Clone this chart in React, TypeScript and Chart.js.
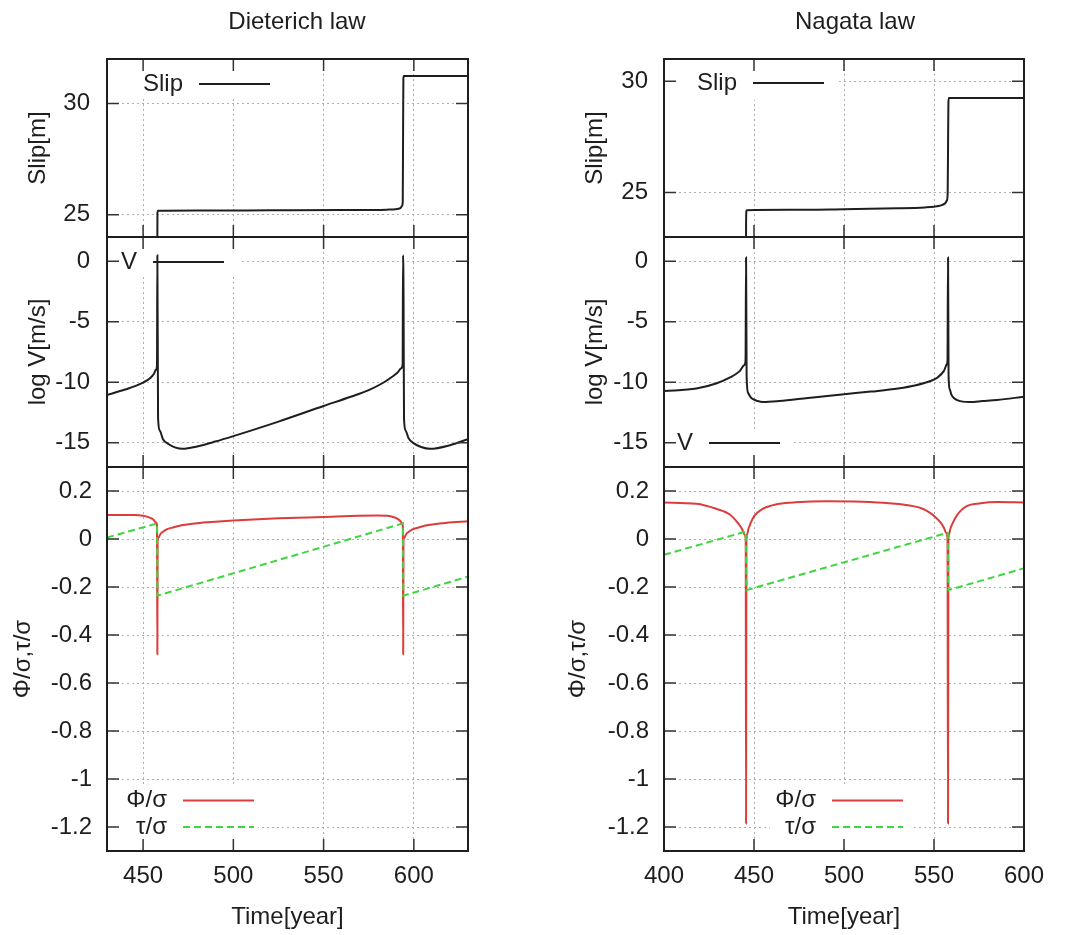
import React, { useEffect, useRef } from 'react';
import { Chart, registerables } from 'chart.js';

Chart.register(...registerables);

const FONT = "'Liberation Sans', Arial, Helvetica, sans-serif";

// ---------------- Data: Dieterich law ----------------
const dieterichSlipTime = [430, 457.75, 457.85, 457.95, 458.2, 480, 520, 560, 585, 590, 592.5, 593.5, 593.85, 594.05, 594.2, 594.4, 630];
const dieterichSlip = [19.15, 19.2, 22.5, 25.1, 25.18, 25.19, 25.2, 25.21, 25.23, 25.25, 25.3, 25.4, 25.6, 29, 31.1, 31.24, 31.24];

const dieterichVTime = [430, 440, 450, 454, 456, 457.2, 457.7, 457.9, 458.3, 459.3, 461, 464, 468, 472, 480, 490, 500, 525, 550, 565, 575, 583.5, 588, 591, 593, 593.8, 594.0, 594.3, 594.55, 595.5, 597, 600, 604, 609, 620, 630];
const dieterichLogV = [-11.05, -10.6, -10.03, -9.65, -9.3, -8.95, -8.6, 0.5, -13.0, -14.0, -14.7, -15.1, -15.4, -15.5, -15.3, -14.9, -14.45, -13.25, -11.96, -11.2, -10.65, -10.0, -9.55, -9.2, -8.85, -8.5, 0.5, -3, -13.0, -14.0, -14.6, -15.05, -15.35, -15.5, -15.2, -14.7];

const dieterichPhiTime = [430, 445, 450, 453, 455.5, 457, 457.7, 457.9, 458.05, 458.5, 459.5, 461, 463, 466.5, 472, 480, 490, 500, 525, 550, 570, 580, 585, 588, 590.5, 592.5, 593.5, 593.9, 594.1, 594.25, 594.7, 595.7, 597.2, 599.2, 602.7, 608, 616, 626, 630];
const dieterichPhi = [0.1, 0.1, 0.097, 0.091, 0.082, 0.07, 0.06, -0.48, -0.01, 0.005, 0.02, 0.03, 0.04, 0.048, 0.058, 0.066, 0.072, 0.077, 0.086, 0.092, 0.097, 0.098, 0.097, 0.093, 0.086, 0.075, 0.065, 0.055, -0.48, -0.01, 0.005, 0.02, 0.03, 0.04, 0.048, 0.058, 0.066, 0.072, 0.074];

const dieterichTauTime = [430, 457.75, 457.95, 593.95, 594.15, 630];
const dieterichTau = [0.006, 0.065, -0.236, 0.065, -0.236, -0.157];

// ---------------- Data: Nagata law ----------------
const nagataSlipTime = [400, 445.4, 445.5, 445.6, 445.75, 446, 470, 500, 530, 545, 550, 554, 556, 557.2, 557.6, 557.8, 558.0, 558.2, 600];
const nagataSlip = [19.4, 19.45, 21, 23.5, 24.15, 24.2, 24.22, 24.25, 24.29, 24.33, 24.36, 24.42, 24.5, 24.65, 25.0, 27, 29.0, 29.25, 29.25];

const nagataVTime = [400, 418, 429.3, 436.7, 442.2, 444.5, 445.3, 445.6, 445.9, 446.7, 448, 449.5, 452, 455, 464, 480, 500, 515, 530, 540, 548, 552, 555.5, 557.2, 557.5, 557.8, 558.1, 558.8, 559.6, 561, 563.3, 566, 569.8, 577, 585, 600];
const nagataLogV = [-10.72, -10.52, -10.08, -9.6, -9.06, -8.6, -8.2, 0.3, -9.5, -10.86, -11.2, -11.4, -11.55, -11.63, -11.55, -11.3, -10.99, -10.77, -10.52, -10.25, -9.9, -9.6, -9.06, -8.5, -8.2, 0.3, -9.5, -10.6, -11.0, -11.3, -11.5, -11.6, -11.63, -11.55, -11.46, -11.2];

const nagataPhiTime = [400, 418, 429, 436.6, 441, 443.5, 444.8, 445.4, 445.6, 445.8, 446.2, 446.8, 447.8, 449.6, 452, 455, 460, 464, 473, 490, 510, 525, 538.5, 544, 547.8, 551, 553.5, 555.5, 556.8, 557.5, 557.8, 558.0, 558.4, 559, 560, 562, 564.5, 567.7, 575, 586, 600];
const nagataPhi = [0.152, 0.147, 0.126, 0.102, 0.067, 0.04, 0.018, 0.0, -1.185, -0.01, 0.02, 0.04, 0.06, 0.09, 0.11, 0.127, 0.14, 0.147, 0.153, 0.157, 0.155, 0.149, 0.137, 0.125, 0.109, 0.09, 0.07, 0.047, 0.025, 0.005, -1.185, -0.01, 0.02, 0.04, 0.06, 0.09, 0.115, 0.135, 0.148, 0.154, 0.152];

const nagataTauTime = [400, 445.4, 445.8, 557.6, 558.0, 600];
const nagataTau = [-0.066, 0.031, -0.213, 0.026, -0.213, -0.122];

// ---------------- Axes ----------------
const dieterichTimeRange = [430, 630];
const nagataTimeRange = [400, 600];
const dieterichTimeTicks = [450, 500, 550, 600];
const nagataTimeTicks = [400, 450, 500, 550, 600];
const dieterichSlipRange = [24, 32];
const nagataSlipRange = [23, 31];
const slipTicks = [25, 30];
const logVRange = [-17, 2];
const logVTicks = [0, -5, -10, -15];
const stressRange = [-1.3, 0.3];
const stressTicks = [0.2, 0, -0.2, -0.4, -0.6, -0.8, -1, -1.2];

const TEXT = '#1e1e1e';
const LINE = '#1e1e1e';
const RED = '#dc3c3c';
const GREEN = '#3ed63e';
const GRID = '#b0b0b0';

function pts(t: number[], v: number[]) {
  return t.map((x, i) => ({ x, y: v[i] }));
}

function blackLine(label: string, t: number[], v: number[]) {
  return { label, data: pts(t, v), borderColor: LINE, borderWidth: 2, pointRadius: 0, cubicInterpolationMode: 'monotone', fill: false };
}

function stressSets(pt: number[], pv: number[], tt: number[], tv: number[]) {
  return [
    { label: 'Φ/σ', data: pts(pt, pv), borderColor: RED, borderWidth: 2, pointRadius: 0, cubicInterpolationMode: 'monotone', fill: false, order: 1 },
    { label: 'τ/σ', data: pts(tt, tv), borderColor: GREEN, borderWidth: 2, borderDash: [7, 4], pointRadius: 0, tension: 0, fill: false, order: 0 },
  ];
}

type Panel = {
  key: string;
  left: number; top: number; width: number; height: number;
  frame: number[];
  xRange: number[]; xTicks: number[]; showX: boolean;
  yRange: number[]; yTicks: number[]; yTitle: string; yTitleCenter: number; yLabelGap: number;
  datasets: any[];
  legend: { clear: number[]; lineStart: number; y0: number };
  title?: { text: string; x: number; y: number };
};

const L = { left: 0, width: 500, fl: 107, fr: 468 };
const R = { left: 535, width: 535, fl: 664, fr: 1024 };
const ROWS = [
  { top: 0, height: 247, ft: 59, fb: 237 },
  { top: 227, height: 250, ft: 237, fb: 467 },
  { top: 457, height: 478, ft: 467, fb: 851 },
];

const panels: Panel[] = [
  {
    key: 'dslip', left: L.left, width: L.width, top: ROWS[0].top, height: ROWS[0].height,
    frame: [L.fl, ROWS[0].ft, L.fr, ROWS[0].fb],
    xRange: dieterichTimeRange, xTicks: dieterichTimeTicks, showX: false,
    yRange: dieterichSlipRange, yTicks: slipTicks, yTitle: 'Slip[m]', yTitleCenter: 38, yLabelGap: 17,
    datasets: [blackLine('Slip', dieterichSlipTime, dieterichSlip)],
    legend: { clear: [107, 59, 276, 99], lineStart: 199, y0: 84 },
    title: { text: 'Dieterich law', x: 297, y: 22 },
  },
  {
    key: 'dv', left: L.left, width: L.width, top: ROWS[1].top, height: ROWS[1].height,
    frame: [L.fl, ROWS[1].ft, L.fr, ROWS[1].fb],
    xRange: dieterichTimeRange, xTicks: dieterichTimeTicks, showX: false,
    yRange: logVRange, yTicks: logVTicks, yTitle: 'log V[m/s]', yTitleCenter: 38, yLabelGap: 17,
    datasets: [blackLine('V', dieterichVTime, dieterichLogV)],
    legend: { clear: [107, 237, 240, 276], lineStart: 153, y0: 262 },
  },
  {
    key: 'dstress', left: L.left, width: L.width, top: ROWS[2].top, height: ROWS[2].height,
    frame: [L.fl, ROWS[2].ft, L.fr, ROWS[2].fb],
    xRange: dieterichTimeRange, xTicks: dieterichTimeTicks, showX: true,
    yRange: stressRange, yTicks: stressTicks, yTitle: 'Φ/σ,τ/σ', yTitleCenter: 23, yLabelGap: 15,
    datasets: stressSets(dieterichPhiTime, dieterichPhi, dieterichTauTime, dieterichTau),
    legend: { clear: [107, 786, 258, 851], lineStart: 183, y0: 800.5 },
  },
  {
    key: 'nslip', left: R.left, width: R.width, top: ROWS[0].top, height: ROWS[0].height,
    frame: [R.fl, ROWS[0].ft, R.fr, ROWS[0].fb],
    xRange: nagataTimeRange, xTicks: nagataTimeTicks, showX: false,
    yRange: nagataSlipRange, yTicks: slipTicks, yTitle: 'Slip[m]', yTitleCenter: 595, yLabelGap: 16,
    datasets: [blackLine('Slip', nagataSlipTime, nagataSlip)],
    legend: { clear: [664, 59, 837, 100], lineStart: 753, y0: 83 },
    title: { text: 'Nagata law', x: 855, y: 22 },
  },
  {
    key: 'nv', left: R.left, width: R.width, top: ROWS[1].top, height: ROWS[1].height,
    frame: [R.fl, ROWS[1].ft, R.fr, ROWS[1].fb],
    xRange: nagataTimeRange, xTicks: nagataTimeTicks, showX: false,
    yRange: logVRange, yTicks: logVTicks, yTitle: 'log V[m/s]', yTitleCenter: 595, yLabelGap: 16,
    datasets: [blackLine('V', nagataVTime, nagataLogV)],
    legend: { clear: [664, 430, 793, 467], lineStart: 709, y0: 443 },
  },
  {
    key: 'nstress', left: R.left, width: R.width, top: ROWS[2].top, height: ROWS[2].height,
    frame: [R.fl, ROWS[2].ft, R.fr, ROWS[2].fb],
    xRange: nagataTimeRange, xTicks: nagataTimeTicks, showX: true,
    yRange: stressRange, yTicks: stressTicks, yTitle: 'Φ/σ,τ/σ', yTitleCenter: 578, yLabelGap: 15,
    datasets: stressSets(nagataPhiTime, nagataPhi, nagataTauTime, nagataTau),
    legend: { clear: [770, 786, 913, 851], lineStart: 832, y0: 800.5 },
  },
];

function makeDeco(p: Panel) {
  return {
    id: 'deco',
    beforeDatasetsDraw(chart: any) {
      const ctx = chart.ctx;
      const [x1, y1, x2, y2] = p.legend.clear;
      ctx.save();
      ctx.fillStyle = '#ffffff';
      ctx.fillRect(x1 - p.left, y1 - p.top, x2 - x1, y2 - y1);
      ctx.restore();
    },
    afterDatasetsDraw(chart: any) {
      const { ctx, chartArea: a, scales } = chart;
      ctx.save();
      ctx.setLineDash([]);
      ctx.strokeStyle = '#333333';
      ctx.lineWidth = 1.5;
      ctx.beginPath();
      for (const t of scales.x.ticks) {
        const px = scales.x.getPixelForValue(t.value);
        if (px < a.left + 1 || px > a.right - 1) continue;
        ctx.moveTo(px, a.top); ctx.lineTo(px, a.top + 12);
        ctx.moveTo(px, a.bottom); ctx.lineTo(px, a.bottom - 12);
      }
      for (const t of scales.y.ticks) {
        const py = scales.y.getPixelForValue(t.value);
        ctx.moveTo(a.left, py); ctx.lineTo(a.left + 12, py);
        ctx.moveTo(a.right, py); ctx.lineTo(a.right - 12, py);
      }
      ctx.stroke();
      ctx.strokeStyle = LINE;
      ctx.lineWidth = 2;
      ctx.strokeRect(a.left, a.top, a.right - a.left, a.bottom - a.top);

      ctx.font = `24px ${FONT}`;
      ctx.textBaseline = 'middle';
      ctx.textAlign = 'right';
      ctx.fillStyle = TEXT;
      chart.data.datasets.forEach((ds: any, i: number) => {
        const y = p.legend.y0 + i * 26.5 - p.top;
        const xs = p.legend.lineStart - p.left;
        ctx.fillText(ds.label, xs - 16, y);
        ctx.strokeStyle = ds.borderColor;
        ctx.lineWidth = ds.borderWidth;
        ctx.setLineDash(ds.borderDash || []);
        ctx.beginPath();
        ctx.moveTo(xs, y);
        ctx.lineTo(xs + 71, y);
        ctx.stroke();
        ctx.setLineDash([]);
      });
      if (p.title) {
        ctx.textAlign = 'center';
        ctx.fillStyle = TEXT;
        ctx.fillText(p.title.text, p.title.x - p.left, p.title.y - p.top);
      }
      ctx.restore();
    },
  };
}

function zeroPad(axis: any) {
  axis.paddingTop = 0;
  axis.paddingBottom = 0;
  axis.paddingLeft = 0;
  axis.paddingRight = 0;
}

function makeConfig(p: Panel): any {
  const [fl, ft, fr, fb] = p.frame;
  const padTop = ft - p.top;
  const padRight = p.left + p.width - fr;
  const padBottom = p.showX ? 0 : p.top + p.height - fb;
  const xAxisH = p.showX ? p.top + p.height - fb : 0;
  const yAxisW = fl - p.left;
  const font = { family: FONT, size: 24 };
  return {
    type: 'line',
    data: { datasets: p.datasets },
    plugins: [makeDeco(p)],
    options: {
      animation: false,
      responsive: false,
      maintainAspectRatio: false,
      devicePixelRatio: 1,
      events: [],
      layout: { padding: { left: 0, top: padTop, right: padRight, bottom: padBottom } },
      plugins: { legend: { display: false }, tooltip: { enabled: false }, title: { display: false } },
      scales: {
        x: {
          type: 'linear',
          min: p.xRange[0],
          max: p.xRange[1],
          afterBuildTicks: (axis: any) => { axis.ticks = p.xTicks.map((value) => ({ value })); },
          afterFit: (axis: any) => { axis.height = xAxisH; zeroPad(axis); },
          grid: { color: GRID, lineWidth: 1, drawTicks: false },
          border: { display: false, dash: [2, 3] },
          ticks: {
            display: p.showX, autoSkip: false, maxRotation: 0, padding: 11, font, color: TEXT,
            callback: (v: any) => String(v),
          },
          title: { display: p.showX, text: 'Time[year]', font, color: TEXT, padding: { top: 0, bottom: 3.6 } },
        },
        y: {
          type: 'linear',
          min: p.yRange[0],
          max: p.yRange[1],
          afterBuildTicks: (axis: any) => { axis.ticks = p.yTicks.map((value) => ({ value })); },
          afterFit: (axis: any) => { axis.width = yAxisW; zeroPad(axis); },
          grid: { color: GRID, lineWidth: 1, drawTicks: false },
          border: { display: false, dash: [2, 3] },
          ticks: { padding: p.yLabelGap, font, color: TEXT, autoSkip: false, callback: (v: any) => String(v) },
          title: { display: true, text: p.yTitle, font, color: TEXT, padding: { top: p.yTitleCenter - p.left - 14.4, bottom: 0 } },
        },
      },
    },
  };
}

function PanelChart({ p }: { p: Panel }) {
  const ref = useRef<HTMLCanvasElement>(null);
  useEffect(() => {
    if (!ref.current) return;
    const chart = new Chart(ref.current, makeConfig(p));
    return () => chart.destroy();
  }, []);
  return (
    <canvas
      ref={ref}
      width={p.width}
      height={p.height}
      style={{ position: 'absolute', left: p.left, top: p.top, width: p.width, height: p.height }}
    />
  );
}

export default function App() {
  return (
    <div style={{ position: 'absolute', left: 0, top: 0, width: 1070, height: 935, background: '#ffffff', overflow: 'hidden' }}>
      {panels.map((p) => (
        <PanelChart key={p.key} p={p} />
      ))}
    </div>
  );
}
